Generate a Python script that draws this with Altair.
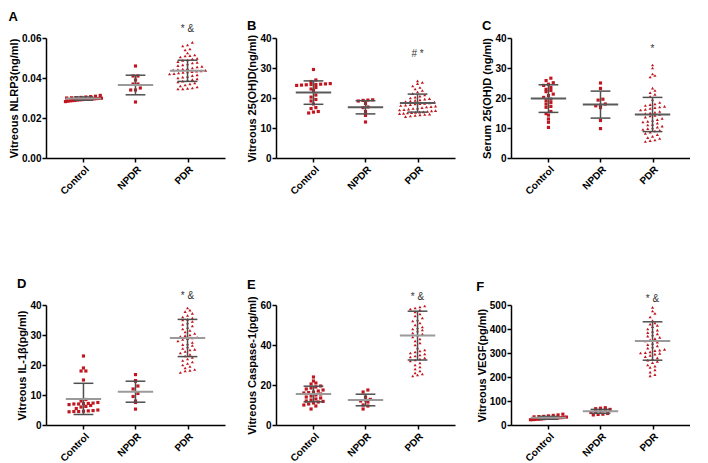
import altair as alt
import pandas as pd
import numpy as np

categories = ["Control", "NPDR", "PDR"]

# ---- Panel A: Vitreous NLRP3 (ng/ml)
a_control = [0.0282, 0.0284, 0.0286, 0.0287, 0.0288, 0.0290, 0.0291, 0.0292, 0.0293, 0.0294, 0.0295, 0.0296,
             0.0296, 0.0297, 0.0298, 0.0299, 0.0300, 0.0301, 0.0302, 0.0303, 0.0305, 0.0307, 0.0309, 0.0313]
a_npdr = [0.046, 0.041, 0.041, 0.039, 0.037, 0.037, 0.035, 0.034, 0.034, 0.028]
a_pdr = [0.0578, 0.0565, 0.0560, 0.0545, 0.0540, 0.0525, 0.0515, 0.0512, 0.0510, 0.0505,
         0.0498, 0.0495, 0.0490, 0.0488, 0.0482, 0.0478, 0.0475, 0.0470, 0.0466, 0.0462,
         0.0458, 0.0455, 0.0450, 0.0447, 0.0445, 0.0442, 0.0440, 0.0438, 0.0436, 0.0434,
         0.0432, 0.0430, 0.0428, 0.0425, 0.0422, 0.0420, 0.0416, 0.0412, 0.0408, 0.0404,
         0.0400, 0.0396, 0.0392, 0.0388, 0.0384, 0.0380, 0.0375, 0.0370, 0.0365, 0.0360,
         0.0355, 0.0350, 0.0348, 0.0346, 0.0345]
a_mean = [0.0297, 0.0365, 0.0436]
a_sd = [0.0008, 0.0049, 0.0053]

# ---- Panel B: Vitreous 25(OH)D (ng/ml)
b_control = [29.5, 26.0, 25.5, 24.8, 24.7, 24.6, 24.5, 24.5, 24.4, 24.3, 24.2, 23.5,
             23.0, 22.5, 21.0, 20.3, 19.5, 19.0, 18.0, 16.8, 16.5, 15.5, 15.3, 15.0]
b_npdr = [19.4, 19.3, 19.2, 19.0, 18.2, 17.0, 16.8, 15.5, 14.2, 12.0]
b_pdr = [25.7, 25.2, 24.8, 24.0, 23.5, 23.0, 22.5, 22.0, 21.5, 21.0,
         20.6, 20.3, 20.0, 19.8, 19.6, 19.4, 19.2, 19.0, 18.8, 18.6,
         18.4, 18.2, 18.1, 18.0, 17.8, 17.6, 17.5, 17.3, 17.1, 17.0,
         16.8, 16.6, 16.5, 16.3, 16.1, 16.0, 15.8, 15.7, 15.5, 15.4,
         15.3, 15.2, 15.1, 15.0, 14.9, 14.8, 14.6, 14.5, 14.4, 14.2, 14.0, 13.8]
b_mean = [21.8, 16.9, 18.3]
b_sd = [3.9, 2.2, 3.0]

# ---- Panel C: Serum 25(OH)D (ng/ml)
c_control = [26.6, 25.8, 25.1, 24.6, 24.2, 23.5, 22.9, 22.5, 22.1, 21.3, 20.8, 20.2,
             19.6, 19.1, 18.5, 18.0, 17.2, 16.9, 15.5, 14.8, 14.3, 13.0, 11.9, 10.2]
c_npdr = [25.0, 23.2, 19.6, 19.3, 18.0, 17.6, 17.4, 16.8, 12.5, 9.8]
c_pdr = [31.0, 30.0, 28.0, 27.5, 27.0, 23.3, 22.5, 21.8, 21.2, 20.5,
         19.5, 18.5, 18.0, 17.8, 17.5, 17.2, 17.0, 16.8, 16.5, 16.2,
         16.0, 15.5, 15.2, 15.0, 14.8, 14.5, 14.2, 14.0, 13.6, 13.2,
         12.8, 12.5, 12.2, 12.0, 11.6, 11.2, 11.0, 10.6, 10.3, 10.0,
         9.8, 9.5, 9.2, 9.0, 8.6, 8.2, 7.8, 7.2, 6.8, 6.5, 6.0, 5.8, 5.5]
c_mean = [19.8, 17.8, 14.5]
c_sd = [4.6, 4.5, 5.7]

# ---- Panel D: Vitreous IL-1beta (pg/ml)
d_control = [23.0, 19.0, 18.0, 18.0, 15.0, 8.5, 8.0, 7.5, 7.3, 7.2, 7.1, 7.0, 7.0,
             6.8, 6.5, 6.2, 6.0, 5.5, 5.0, 4.8, 4.7, 4.6, 4.5, 4.5, 4.4]
d_npdr = [16.8, 14.8, 14.6, 13.0, 12.0, 10.5, 9.5, 8.0, 7.5, 5.3]
d_pdr = [39.0, 38.3, 37.8, 37.2, 36.5, 36.0, 35.6, 35.2, 35.0, 34.5,
         34.0, 33.5, 33.0, 32.5, 32.0, 31.5, 31.0, 30.5, 30.0, 29.8,
         29.5, 29.2, 29.0, 28.8, 28.5, 28.0, 27.5, 27.0, 26.8, 26.5,
         26.0, 25.5, 25.2, 25.0, 24.5, 24.0, 23.5, 23.0, 22.5, 22.0,
         21.5, 21.0, 20.5, 20.0, 19.5, 19.0, 18.5, 18.2, 18.0, 17.5]
d_mean = [8.7, 11.1, 29.0]
d_sd = [5.2, 3.5, 6.2]

# ---- Panel E: Vitreous Caspase-1 (pg/ml)
e_control = [24.0, 22.0, 21.0, 20.5, 19.5, 19.0, 18.5, 18.0, 17.5, 17.0, 16.5, 16.2, 16.0, 15.5,
             15.0, 14.5, 14.0, 13.5, 13.0, 12.5, 12.0, 11.8, 11.5, 11.0, 10.5, 10.0, 9.5, 8.0]
e_npdr = [17.5, 16.5, 14.0, 12.8, 12.5, 12.0, 11.5, 10.0, 9.5, 8.0]
e_pdr = [59.5, 59.0, 58.5, 58.0, 57.5, 56.5, 55.5, 54.5, 53.5, 52.5,
         52.0, 51.0, 50.0, 49.0, 48.5, 48.0, 47.5, 47.0, 46.0, 45.5,
         45.0, 44.0, 43.0, 42.0, 41.0, 40.0, 38.5, 37.5, 37.0, 36.5,
         36.0, 35.5, 35.0, 34.5, 34.0, 33.5, 33.0, 32.5, 32.0, 31.0,
         30.0, 29.0, 28.0, 27.0, 26.0, 25.5, 25.0, 24.5]
e_mean = [15.5, 12.5, 44.7]
e_sd = [3.9, 2.9, 12.2]

# ---- Panel F: Vitreous VEGF (pg/ml)
f_control = [45, 42, 40, 38, 36, 35, 34, 33, 32, 31, 30.5, 30, 29.5, 29, 28.5, 28, 27.5, 27,
             26, 25, 24.5, 24, 23, 22.5, 22]
f_npdr = [72, 70, 68, 65, 62, 60, 56, 52, 48, 45, 44, 42]
f_pdr = [490, 475, 465, 450, 435, 425, 420, 415, 410, 400,
         395, 390, 385, 380, 375, 370, 365, 360, 355, 350,
         345, 340, 335, 330, 325, 320, 315, 312, 310, 305,
         302, 300, 298, 295, 290, 285, 280, 275, 270, 265,
         260, 250, 245, 240, 230, 220, 210, 205]
f_mean = [30, 57, 350]
f_sd = [6, 8, 80]

RED = "#c0161f"
MEAN_LIGHT = "#9a9a9a"
MEAN_DARK = "#5a5a5a"
SD_C = "#4f4f4f"
FONT = "Liberation Sans"
PANEL_W, PANEL_H = 179, 120
X_LO, X_HI = -0.72, 2.72
STEP_PX = PANEL_W / (X_HI - X_LO)


def row_offsets(values, ymax, row_px=4.0, dx_px=4.8, max_w=36.0):
    """GraphPad-like scatter: values in the same pixel row are spread sideways."""
    vals = np.asarray(values, float)
    ypx = vals / ymax * PANEL_H
    bins = np.floor(ypx / row_px).astype(int)
    off = np.zeros(len(vals))
    for b in np.unique(bins):
        idx = np.where(bins == b)[0]
        idx = idx[np.argsort(vals[idx], kind="stable")]
        n = len(idx)
        dx = dx_px if n < 2 else min(dx_px, max_w / (n - 1))
        for k, i in enumerate(idx):
            off[i] = (k - (n - 1) / 2) * dx / STEP_PX
    return off


label_expr = " : ".join(
    [f"datum.value == {i} ? '{c}'" for i, c in enumerate(categories[:-1])]
) + f" : '{categories[-1]}'"


def panel(letter, ytitle, ymax, ystep, fmt, groups, means, sds, note, note_y, mean_color):
    rows = []
    for gi, vals in enumerate(groups):
        off = row_offsets(vals, ymax)
        for v, o in zip(vals, off):
            rows.append({"group": categories[gi], "idx": gi, "value": v, "off": float(o)})
    pts = pd.DataFrame(rows)
    summ = pd.DataFrame({"group": categories, "idx": [0, 1, 2], "mean": means, "sd": sds})

    xscale = alt.Scale(domain=[X_LO, X_HI], nice=False, zero=False)
    yscale = alt.Scale(domain=[0, ymax], nice=False, zero=True)
    xaxis = alt.Axis(values=[0, 1, 2], labelExpr=label_expr, labelAngle=315,
                     labelAlign="right", labelBaseline="top", title=None,
                     labelPadding=2, labelFontSize=10)
    yvals = [round(v, 6) for v in np.arange(0, ymax + ystep / 2, ystep)]
    yaxis = alt.Axis(values=yvals, format=fmt, title=ytitle, titlePadding=2)

    points = alt.Chart(pts).transform_calculate(
        xp="datum.idx + datum.off"
    ).mark_point(filled=True, opacity=1, color=RED, size=10, strokeWidth=0).encode(
        x=alt.X("xp:Q", scale=xscale, axis=xaxis),
        y=alt.Y("value:Q", scale=yscale, axis=yaxis),
        shape=alt.Shape("group:N", scale=alt.Scale(domain=categories,
                                                   range=["square", "square", "triangle-up"]),
                        legend=None),
    )
    base = alt.Chart(summ).transform_calculate(
        lo="datum.mean - datum.sd", hi="datum.mean + datum.sd",
        ml="datum.idx - 0.34", mr="datum.idx + 0.34",
        cl="datum.idx - 0.19", cr="datum.idx + 0.19",
    )
    vline = base.mark_rule(color=SD_C, strokeWidth=1.5).encode(
        x=alt.X("idx:Q", scale=xscale, axis=xaxis),
        y=alt.Y("lo:Q", scale=yscale, axis=yaxis), y2="hi:Q")
    cap_hi = base.mark_rule(color=SD_C, strokeWidth=1.5).encode(
        x=alt.X("cl:Q", scale=xscale, axis=xaxis), x2="cr:Q",
        y=alt.Y("hi:Q", scale=yscale, axis=yaxis))
    cap_lo = base.mark_rule(color=SD_C, strokeWidth=1.5).encode(
        x=alt.X("cl:Q", scale=xscale, axis=xaxis), x2="cr:Q",
        y=alt.Y("lo:Q", scale=yscale, axis=yaxis))
    mline = base.mark_rule(color=mean_color, strokeWidth=2).encode(
        x=alt.X("ml:Q", scale=xscale, axis=xaxis), x2="mr:Q",
        y=alt.Y("mean:Q", scale=yscale, axis=yaxis))
    note_df = pd.DataFrame({"idx": [2], "y": [note_y], "t": [note]})
    txt = alt.Chart(note_df).mark_text(fontSize=10, color="#333333", font=FONT,
                                       baseline="middle").encode(
        x=alt.X("idx:Q", scale=xscale, axis=xaxis),
        y=alt.Y("y:Q", scale=yscale, axis=yaxis), text="t:N")

    return alt.layer(points, vline, cap_hi, cap_lo, mline, txt).properties(
        width=PANEL_W, height=PANEL_H,
        title=alt.TitleParams(letter, anchor="start", fontSize=13, fontWeight="bold",
                              font=FONT, color="black", offset=0),
    )


pA = panel("A", "Vitreous NLRP3(ng/ml)", 0.06, 0.02, ".2f",
           [a_control, a_npdr, a_pdr], a_mean, a_sd, "* &", 0.0643, MEAN_LIGHT)
pB = panel("B", "Vitreous 25(OH)D(ng/ml)", 40, 10, "d",
           [b_control, b_npdr, b_pdr], b_mean, b_sd, "# *", 34.7, MEAN_DARK)
pC = panel("C", "Serum 25(OH)D (ng/ml)", 40, 10, "d",
           [c_control, c_npdr, c_pdr], c_mean, c_sd, "*", 36.4, MEAN_DARK)
pD = panel("D", "Vitreous IL-1β(pg/ml)", 40, 10, "d",
           [d_control, d_npdr, d_pdr], d_mean, d_sd, "* &", 43, MEAN_LIGHT)
pE = panel("E", "Vitreous Caspase-1(pg/ml)", 60, 20, "d",
           [e_control, e_npdr, e_pdr], e_mean, e_sd, "* &", 64, MEAN_LIGHT)
pF = panel("F", "Vitreous VEGF(pg/ml)", 500, 100, "d",
           [f_control, f_npdr, f_pdr], f_mean, f_sd, "* &", 526, MEAN_LIGHT)

chart = alt.concat(pA, pB, pC, pD, pE, pF, columns=3,
                   spacing={"row": 81, "column": 21}).properties(
    padding={"left": 0, "top": 3, "right": 0, "bottom": 0}
).configure_view(stroke=None).configure_axis(
    grid=False, domainColor="black", domainWidth=1.5, tickColor="black", tickWidth=1.5,
    tickSize=4, labelFont=FONT, labelFontWeight="bold", labelFontSize=10,
    labelColor="black", labelPadding=1, titleFont=FONT, titleFontWeight="bold",
    titleFontSize=11, titleColor="black",
)

chart.save("out.html", embed_options={"renderer": "svg", "actions": False})
